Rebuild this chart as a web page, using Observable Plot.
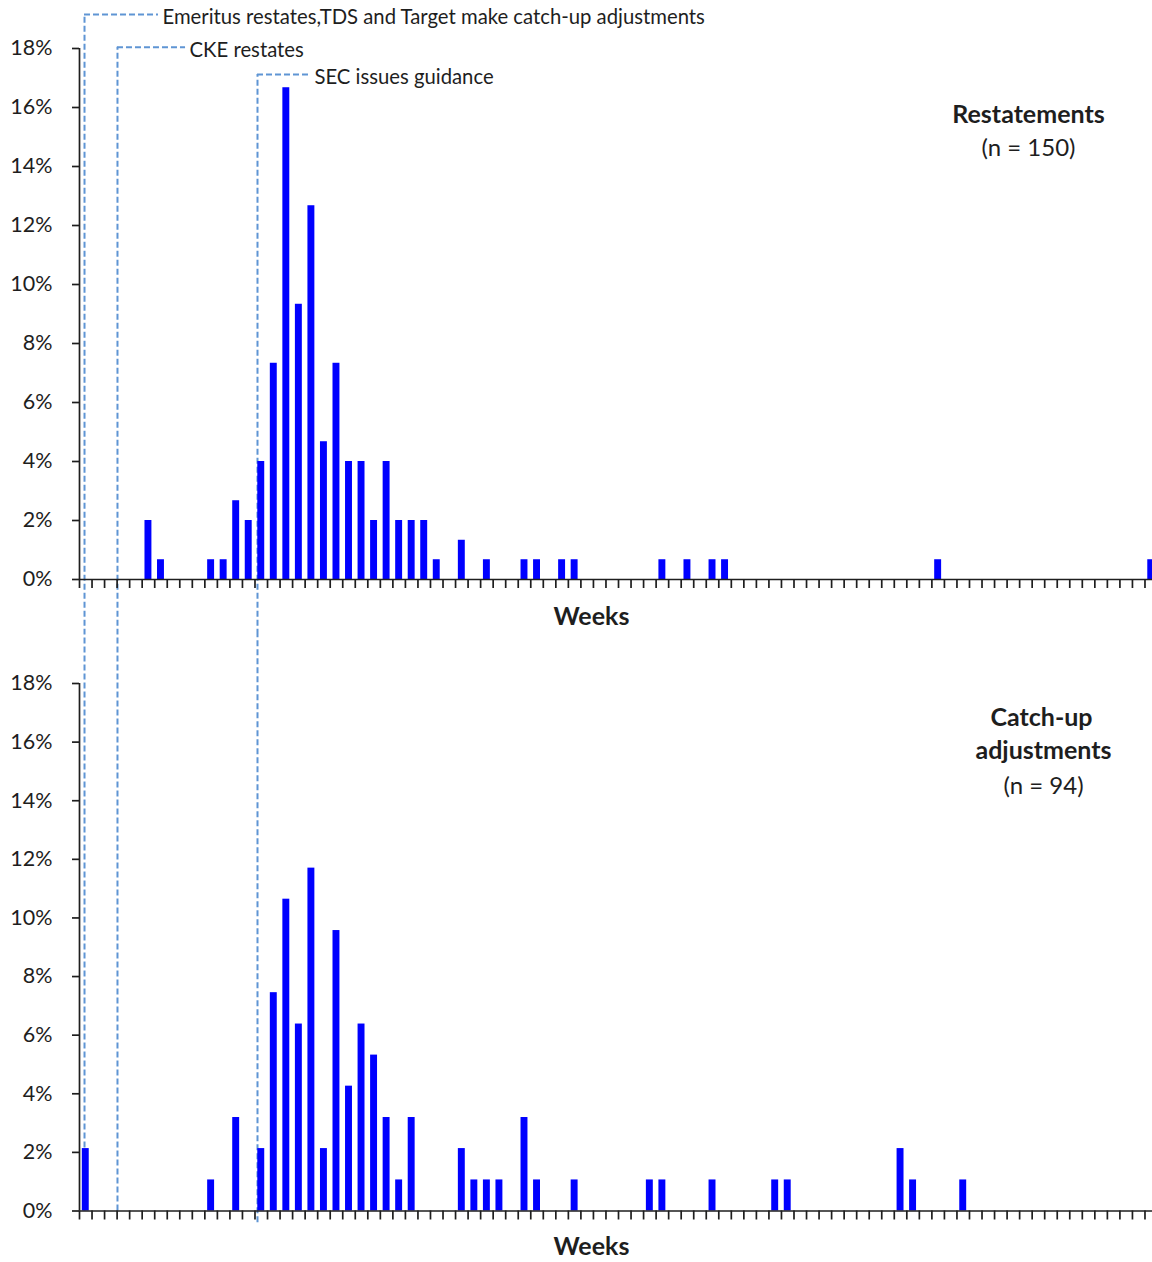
<!DOCTYPE html>
<html>
<head>
<meta charset="utf-8">
<script src="https://cdn.jsdelivr.net/npm/d3@7"></script>
<script src="https://cdn.jsdelivr.net/npm/@observablehq/plot@0.6"></script>
<style>
  html, body { margin: 0; padding: 0; background: #ffffff; }
  #chart { width: 1152px; }
  #chart svg { display: block; }
</style>
</head>
<body>
<div id="chart"></div>
<script>
// ---------- DATA ----------
// Restatements (n = 150): week index and share of filings (%)
const restWeeks = [5, 6, 10, 11, 12, 13, 14, 15, 16, 17, 18, 19, 20, 21, 22, 23, 24, 25, 26, 27, 28, 30, 32, 35, 36, 38, 39, 46, 48, 50, 51, 68, 85];
const restPct   = [2.00, 0.67, 0.67, 0.67, 2.67, 2.00, 4.00, 7.33, 16.67, 9.33, 12.67, 4.67, 7.33, 4.00, 4.00, 2.00, 4.00, 2.00, 2.00, 2.00, 0.67, 1.33, 0.67, 0.67, 0.67, 0.67, 0.67, 0.67, 0.67, 0.67, 0.67, 0.67, 0.67];

// Catch-up adjustments (n = 94)
const catchWeeks = [0, 10, 12, 14, 15, 16, 17, 18, 19, 20, 21, 22, 23, 24, 25, 26, 30, 31, 32, 33, 35, 36, 39, 45, 46, 50, 55, 56, 65, 66, 70];
const catchPct   = [2.13, 1.06, 3.19, 2.13, 7.45, 10.64, 6.38, 11.70, 2.13, 9.57, 4.26, 6.38, 5.32, 3.19, 1.06, 3.19, 2.13, 1.06, 1.06, 1.06, 3.19, 1.06, 1.06, 1.06, 1.06, 1.06, 1.06, 1.06, 2.13, 1.06, 1.06];

// Events (week at which they occur)
const eventLabels = ["Emeritus restates,TDS and Target make catch-up adjustments", "CKE restates", "SEC issues guidance"];
const eventWeeks  = [0.4, 3.03, 14.2];

// Axis ticks
const yTicks = [0, 2, 4, 6, 8, 10, 12, 14, 16, 18];
const xTicks = [0,1,2,3,4,5,6,7,8,9,10,11,12,13,14,15,16,17,18,19,20,21,22,23,24,25,26,27,28,29,30,31,32,33,34,35,36,37,38,39,40,41,42,43,44,45,46,47,48,49,50,51,52,53,54,55,56,57,58,59,60,61,62,63,64,65,66,67,68,69,70,71,72,73,74,75,76,77,78,79,80,81,82,83,84,85];
const xLabel = "Weeks";
const topTitle = ["Restatements", "(n = 150)"];
const bottomTitle = ["Catch-up", "adjustments", "(n = 94)"];

// ---------- LAYOUT (annotation placement, not data) ----------
const eventLabelLevel = [19.15, 18.04, 17.12];   // y level of the leader in the top panel
const eventLeaderEnd  = [6.30, 8.46, 18.42];     // x where the horizontal leader ends
const eventBottomEnd  = [0, 0, -0.4];            // where the vertical lines end in the bottom panel

const FONT = "Lato, 'Open Sans', sans-serif";
const BLUE = "#0000ff";
const DASH = "#5f95d4";
const INK = "#1e1e1e";

const ev = eventWeeks.map((w, i) => ({
  week: w, label: eventLabels[i], level: eventLabelLevel[i], end: eventLeaderEnd[i], bottom: eventBottomEnd[i]
}));

function bars(weeks, pct) {
  return weeks.map((w, i) => ({week: w, pct: pct[i]}));
}

const dashStyle = {stroke: DASH, strokeWidth: 2, strokeDasharray: "6,3"};

function commonMarks(data) {
  return [
    Plot.rectY(data, {x: "week", y: "pct", interval: 1, insetLeft: 2.8, insetRight: 2.8, fill: BLUE}),
    Plot.ruleX([0], {stroke: INK, strokeWidth: 1.7}),
    Plot.ruleY([0], {stroke: INK, strokeWidth: 1.7}),
    Plot.axisY(yTicks, {tickSize: 7, tickPadding: 20, tickFormat: d => d + "%", label: null, stroke: INK, strokeWidth: 1.7, fill: INK, fontSize: 21.5}),
    Plot.axisX(xTicks, {tickSize: 9, tickFormat: () => "", label: null, stroke: INK, strokeWidth: 1.7})
  ];
}

function label(text, dx, dy, size, bold) {
  return Plot.text([text], {
    frameAnchor: "top-left", dx, dy, textAnchor: "middle", lineAnchor: "middle",
    fontSize: size, fontWeight: bold ? "bold" : "normal", fill: INK
  });
}

const topPlot = Plot.plot({
  width: 1152, height: 632,
  marginLeft: 79, marginRight: 0, marginTop: 48, marginBottom: 53,
  style: {fontFamily: FONT, fontSize: "21px", color: INK, background: "#ffffff"},
  x: {domain: [0, 85.6], axis: null},
  y: {domain: [0, 18], axis: null},
  marks: [
    Plot.ruleX(ev, {x: "week", y1: -2.5, y2: "level", ...dashStyle}),
    Plot.ruleY(ev, {y: "level", x1: "week", x2: "end", ...dashStyle}),
    ...commonMarks(bars(restWeeks, restPct)),
    Plot.text(ev, {x: "end", y: "level", text: "label", textAnchor: "start", lineAnchor: "middle", dx: 4, dy: 3, fontSize: 20.3, fill: INK}),
    label(topTitle[0], 1028 - 79, 114 - 48, 25, true),
    label(topTitle[1], 1028 - 79, 148 - 48, 24, false),
    label(xLabel, 591 - 79, 616 - 48, 25, true)
  ]
});

const bottomPlot = Plot.plot({
  width: 1152, height: 630,
  marginLeft: 79, marginRight: 0, marginTop: 51, marginBottom: 51.5,
  style: {fontFamily: FONT, fontSize: "21px", color: INK, background: "#ffffff"},
  x: {domain: [0, 85.6], axis: null},
  y: {domain: [0, 18], axis: null},
  marks: [
    Plot.ruleX(ev, {x: "week", y1: "bottom", y2: 21, ...dashStyle}),
    ...commonMarks(bars(catchWeeks, catchPct)),
    label(bottomTitle[0], 1041 - 79, 717 - 632 - 51, 25, true),
    label(bottomTitle[1], 1043 - 79, 750 - 632 - 51, 25, true),
    label(bottomTitle[2], 1043 - 79, 786 - 632 - 51, 24, false),
    label(xLabel, 591 - 79, 1246 - 632 - 51, 25, true)
  ]
});

const chart = document.getElementById("chart");
chart.appendChild(topPlot);
chart.appendChild(bottomPlot);
</script>
</body>
</html>
